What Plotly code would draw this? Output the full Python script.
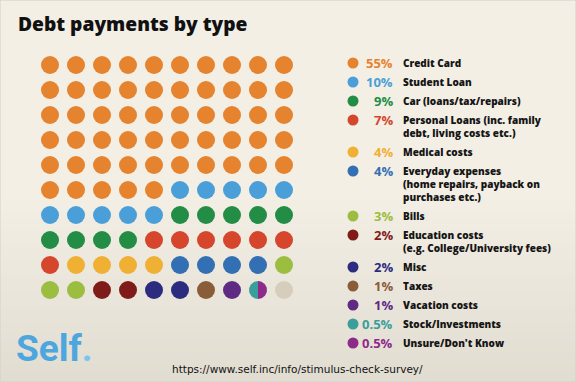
import math
import plotly.graph_objects as go

W, H = 576, 382

# ---------------- data ----------------
categories = [
    "Credit Card",
    "Student Loan",
    "Car (loans/tax/repairs)",
    "Personal Loans (inc. family<br>debt, living costs etc.)",
    "Medical costs",
    "Everyday expenses<br>(home repairs, payback on<br>purchases etc.)",
    "Bills",
    "Education costs<br>(e.g. College/University fees)",
    "Misc",
    "Taxes",
    "Vacation costs",
    "Stock/Investments",
    "Unsure/Don't Know",
]
percents = [55, 10, 9, 7, 4, 4, 3, 2, 2, 1, 1, 0.5, 0.5]
pct_labels = ["55%", "10%", "9%", "7%", "4%", "4%", "3%", "2%", "2%", "1%", "1%", "0.5%", "0.5%"]
colors = [
    "#e5832f", "#4a9fd8", "#238c45", "#d6462d", "#f0b033", "#336fb3", "#9bbd40",
    "#7f1c1a", "#2b2b80", "#8a5c38", "#5e2a84", "#3a9e9b", "#8e2a8a",
]
filler_color = "#d6cdbc"
title_text = "Debt payments by type"
source_text = "https://www.self.inc/info/stimulus-check-survey/"

# ---------------- layout constants ----------------
GRID_N = 10
GRID_X0, GRID_X1 = 37, 297      # pixel extent of grid columns
GRID_Y0, GRID_Y1 = 52.5, 302.5  # pixel extent of grid rows
DOT_PX = 18
FONT = "Open Sans"

col_pitch = (GRID_X1 - GRID_X0) / GRID_N
row_pitch = (GRID_Y1 - GRID_Y0) / GRID_N

# half-cell sequence (each cell = 2 halves = 1%)
halves = []
for i, p in enumerate(percents):
    halves += [i] * int(round(p * 2))
halves += [None] * (GRID_N * GRID_N * 2 - len(halves))

fig = go.Figure()

# background gradient
top = (0xf3, 0xef, 0xe5)
bot = (0xe2, 0xdd, 0xd1)
shapes = [dict(type="rect", xref="paper", yref="paper", x0=0, x1=1, y0=0, y1=1,
               fillcolor="rgb(%d,%d,%d)" % top, line_width=0, layer="below")]
NB = 30
g0, g1 = 200, H
for k in range(NB):
    t = (k + 0.5) / NB
    c = tuple(int(top[j] + (bot[j] - top[j]) * t) for j in range(3))
    ya = g0 + (g1 - g0) * k / NB
    yb = g0 + (g1 - g0) * (k + 1) / NB + 0.5
    shapes.append(dict(type="rect", xref="paper", yref="paper", x0=0, x1=1,
                       y0=1 - yb / H, y1=1 - ya / H,
                       fillcolor="rgb(%d,%d,%d)" % c, line_width=0, layer="below"))
shapes.append(dict(type="rect", xref="paper", yref="paper", x0=0, x1=1, y0=0, y1=1,
                   line=dict(color="#cfcfcf", width=1), fillcolor="rgba(0,0,0,0)"))

# full cells grouped by category
groups = {}
splits = []
for cell in range(GRID_N * GRID_N):
    a, b = halves[2 * cell], halves[2 * cell + 1]
    r, c = divmod(cell, GRID_N)
    if a == b:
        groups.setdefault(a, []).append((c, r))
    else:
        splits.append((c, r, a, b))

for key, pts in groups.items():
    col = filler_color if key is None else colors[key]
    fig.add_trace(go.Scatter(
        x=[p[0] for p in pts], y=[p[1] for p in pts], mode="markers",
        marker=dict(size=DOT_PX, color=col, line_width=0),
        hoverinfo="skip", showlegend=False, xaxis="x", yaxis="y"))

# split cells: two half circles
rx = (DOT_PX / 2) / col_pitch
ry = (DOT_PX / 2) / row_pitch
for c, r, a, b in splits:
    for key, (t0, t1) in ((a, (90, 270)), (b, (-90, 90))):
        col = filler_color if key is None else colors[key]
        angs = [math.radians(t0 + (t1 - t0) * k / 40) for k in range(41)]
        xs = [c + rx * math.cos(t) for t in angs]
        ys = [r - ry * math.sin(t) for t in angs]
        fig.add_trace(go.Scatter(x=xs, y=ys, mode="lines", fill="toself",
                                 fillcolor=col, line=dict(width=0, color=col),
                                 hoverinfo="skip", showlegend=False,
                                 xaxis="x", yaxis="y"))

# legend
LEG_DOT_X, LEG_PCT_X, LEG_TXT_X = 353, 395, 401
LEG_Y0, LEG_STEP, LEG_LINE = 63, 19, 13
annotations = []
ly = LEG_Y0
leg_x, leg_y = [], []
for i, cat in enumerate(categories):
    lines = cat.split("<br>")
    leg_x.append(LEG_DOT_X)
    leg_y.append(ly)
    annotations.append(dict(x=LEG_PCT_X / W, y=1 - ly / H, xref="paper", yref="paper",
                            xanchor="right", yanchor="middle", showarrow=False,
                            text=pct_labels[i],
                            font=dict(family=FONT, size=13, color=colors[i], weight=700)))
    for k, line in enumerate(lines):
        annotations.append(dict(x=LEG_TXT_X / W, y=1 - (ly + LEG_LINE * k) / H,
                                xref="paper", yref="paper", xanchor="left",
                                yanchor="middle", showarrow=False, text=line,
                                font=dict(family=FONT, size=10, color="#151515", weight=800)))
    ly += LEG_STEP + LEG_LINE * (len(lines) - 1)

fig.add_trace(go.Scatter(x=leg_x, y=leg_y, mode="markers",
                         marker=dict(size=11, color=colors, line_width=0),
                         hoverinfo="skip", showlegend=False, xaxis="x2", yaxis="y2"))

# title, logo, source
annotations.append(dict(x=16 / W, y=1 - 24 / H, xref="paper", yref="paper",
                        xanchor="left", yanchor="middle", showarrow=False,
                        text=title_text,
                        font=dict(family=FONT, size=19.2, color="#111111", weight=800)))
annotations.append(dict(x=14 / W, y=1 - 348 / H, xref="paper", yref="paper",
                        xanchor="left", yanchor="middle", showarrow=False,
                        text="<b>Self<span style='color:#7cc4ef'>.</span></b>",
                        font=dict(family="Roboto", size=37, color="#4ea6df")))
annotations.append(dict(x=297 / W, y=1 - 369 / H, xref="paper", yref="paper",
                        xanchor="center", yanchor="middle", showarrow=False,
                        text=source_text,
                        font=dict(family="DejaVu Sans", size=10.5, color="#111111")))

fig.update_layout(
    width=W, height=H, margin=dict(l=0, r=0, t=0, b=0),
    paper_bgcolor="#f3efe5", plot_bgcolor="rgba(0,0,0,0)",
    shapes=shapes, annotations=annotations,
    xaxis=dict(domain=[GRID_X0 / W, GRID_X1 / W], range=[-0.5, GRID_N - 0.5],
               visible=False, fixedrange=True),
    yaxis=dict(domain=[1 - GRID_Y1 / H, 1 - GRID_Y0 / H], range=[GRID_N - 0.5, -0.5],
               visible=False, fixedrange=True),
    xaxis2=dict(domain=[0, 1], range=[0, W], visible=False, anchor="y2", fixedrange=True),
    yaxis2=dict(domain=[0, 1], range=[H, 0], visible=False, anchor="x2", fixedrange=True),
    showlegend=False,
)

fig.write_html("out.html", config={"displayModeBar": False},
               post_script="document.body.style.margin='0';")
